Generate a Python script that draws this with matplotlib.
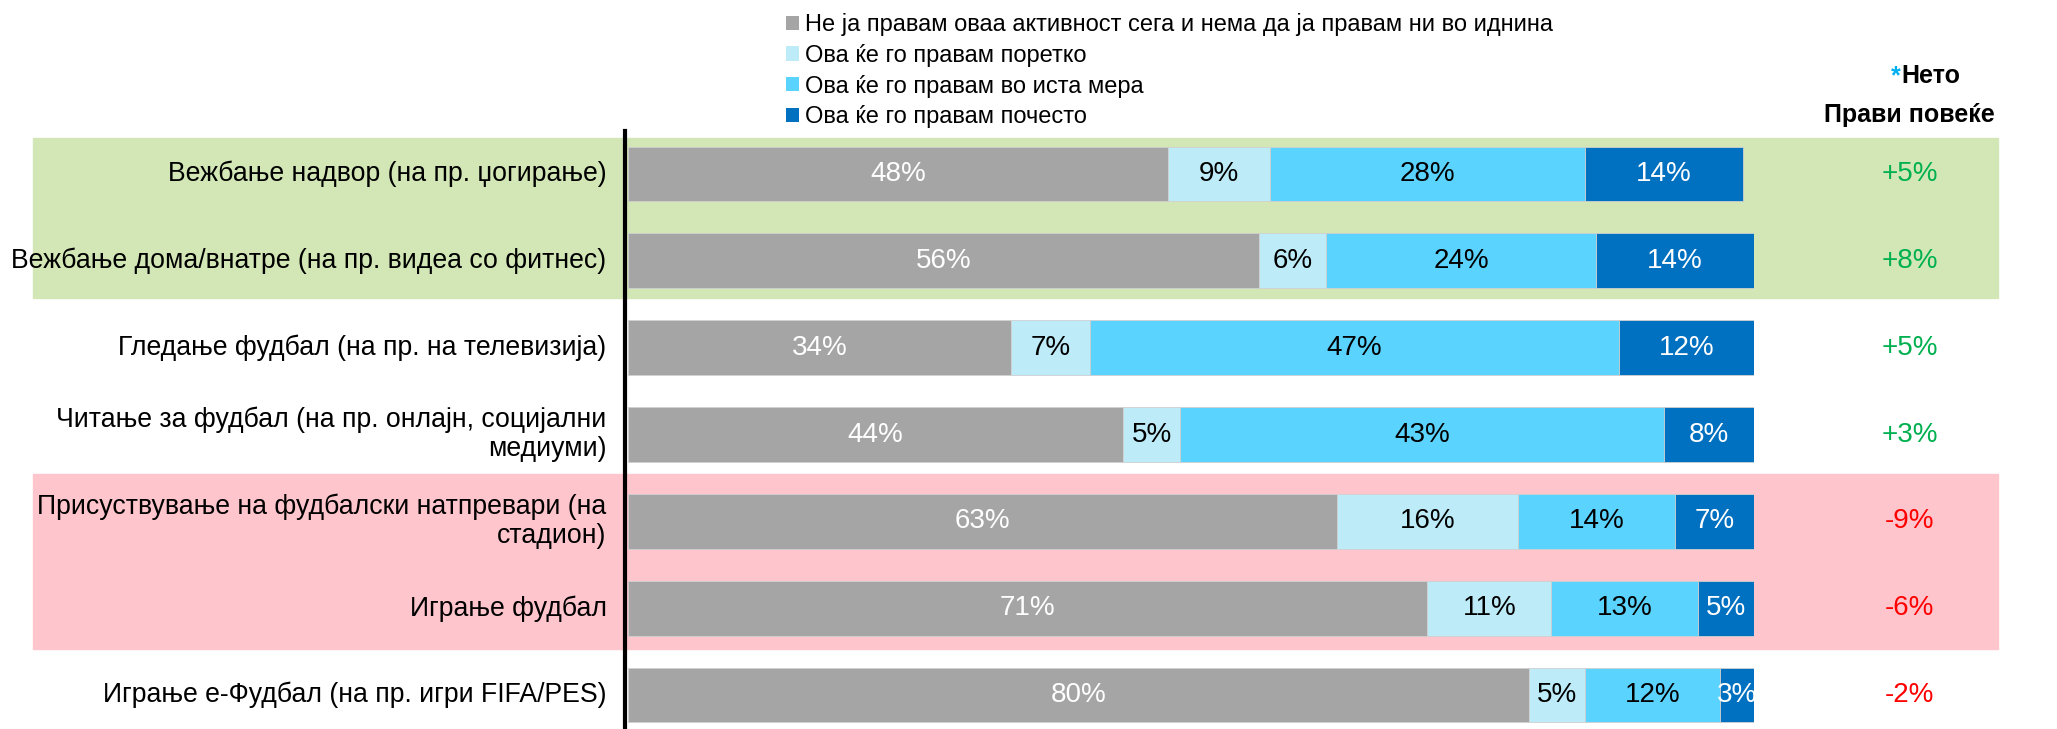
import matplotlib.pyplot as plt
from matplotlib.patches import Rectangle
from matplotlib import font_manager

# activities and answer shares (%)
activities = [
    'Вежбање надвор (на пр. џогирање)',
    'Вежбање дома/внатре (на пр. видеа со фитнес)',
    'Гледање фудбал (на пр. на телевизија)',
    'Читање за фудбал (на пр. онлајн, социјални\nмедиуми)',
    'Присуствување на фудбалски натпревари (на\nстадион)',
    'Играње фудбал',
    'Играње е-Фудбал (на пр. игри FIFA/PES)',
]
not_doing = [48, 56, 34, 44, 63, 71, 80]
less_often = [9, 6, 7, 5, 16, 11, 5]
same = [28, 24, 47, 43, 14, 13, 12]
more_often = [14, 14, 12, 8, 7, 5, 3]

series_names = [
    'Не ја правам оваа активност сега и нема да ја правам ни во иднина',
    'Ова ќе го правам поретко',
    'Ова ќе го правам во иста мера',
    'Ова ќе го правам почесто',
]
colors = ['#A5A5A5', '#BDEBF8', '#5BD3FF', '#0070C0']
text_colors = ['white', 'black', 'black', 'white']

# net = more often minus less often
net = [m - l for m, l in zip(more_often, less_often)]

installed = {f.name for f in font_manager.fontManager.ttflist}
narrow = 'Liberation Sans Narrow' if 'Liberation Sans Narrow' in installed else 'Liberation Sans'
plt.rcParams['font.family'] = ['Liberation Sans', 'DejaVu Sans']

W, H = 2057, 729
fig = plt.figure(figsize=(W / 100, H / 100), dpi=100)

# coloured bands behind the rows
fig.patches.append(Rectangle((33 / W, 1 - 298 / H), 1965 / W, 160 / H,
                             transform=fig.transFigure, color='#D2E7B5', zorder=0))
fig.patches.append(Rectangle((33 / W, 1 - 649 / H), 1965 / W, 175 / H,
                             transform=fig.transFigure, color='#FFC5CC', zorder=0))

ax = fig.add_axes([628 / W, 0, 1126 / W, 1 - 131 / H])
ax.set_zorder(2)
ax.patch.set_visible(False)

y = list(range(len(activities)))
left = [0] * len(activities)
handles = []
for vals, c, tc, name in zip([not_doing, less_often, same, more_often], colors, text_colors, series_names):
    bars = ax.barh(y, vals, left=left, height=0.63, color=c, edgecolor='#D0D0D0', linewidth=0.6, label=name)
    handles.append(bars)
    for yi, l, v in zip(y, left, vals):
        ax.text(l + v / 2, yi, f'{v}%', ha='center', va='center', color=tc, fontsize=20)
    left = [a + b for a, b in zip(left, vals)]

for yi, n in zip(y, net):
    ax.text(113.8, yi, f'{n:+d}%', ha='center', va='center', fontsize=20,
            color='#00B050' if n > 0 else '#FF0000', clip_on=False)

# activity names on the left of the axis line
ytrans = ax.get_yaxis_transform()
for yi, name in zip(y, activities):
    ax.text(-0.019, yi, name, transform=ytrans, ha='right', va='center', fontsize=19.2,
            family=[narrow, 'DejaVu Sans'], linespacing=1.15, clip_on=False)

ax.set_xlim(0, 100)
ax.set_ylim(6.39, -0.495)
ax.set_yticks([])
ax.set_xticks([])
for s in ['top', 'right', 'bottom']:
    ax.spines[s].set_visible(False)
ax.spines['left'].set_linewidth(3)
ax.spines['left'].set_position(('outward', 2))

leg = fig.legend(handles=handles, labels=series_names, loc='upper left',
                 bbox_to_anchor=(786 / W, 1 - 13 / H), frameon=False,
                 prop={'family': [narrow, 'DejaVu Sans'], 'size': 17},
                 handlelength=0.55, handleheight=0.55, handletextpad=0.25,
                 labelspacing=0.33, borderaxespad=0, borderpad=0)
for h in leg.legend_handles:
    h.set_edgecolor('none')

# header of the net column
fig.text(1901 / W, 1 - 76 / H, '*', color='#00B0F0', fontsize=18, fontweight='bold',
         ha='right', va='center')
fig.text(1901 / W, 1 - 76 / H, 'Нето', fontsize=18, fontweight='bold', ha='left', va='center')
fig.text(1909 / W, 1 - 115 / H, 'Прави повеќе', fontsize=18, fontweight='bold', ha='center', va='center')

fig.savefig('out.png', dpi=100)
